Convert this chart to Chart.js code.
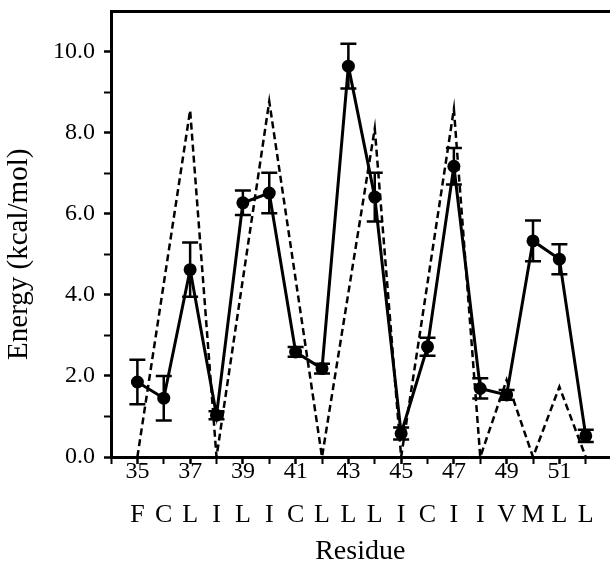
<!DOCTYPE html>
<html>
<head>
<meta charset="utf-8">
<script src="https://cdn.jsdelivr.net/npm/chart.js@4.4.1/dist/chart.umd.min.js"></script>
<style>
	html, body { margin: 0; padding: 0; background: #fff; }
	#contenedor { width: 616px; height: 566px; }
</style>
</head>
<body>
<div id="contenedor"><canvas id="grafico"></canvas></div>
<script>
// datos
var residuos = [35, 36, 37, 38, 39, 40, 41, 42, 43, 44, 45, 46, 47, 48, 49, 50, 51, 52];
var letras = ['F', 'C', 'L', 'I', 'L', 'I', 'C', 'L', 'L', 'L', 'I', 'C', 'I', 'I', 'V', 'M', 'L', 'L'];
var energia = [1.85, 1.45, 4.62, 1.03, 6.27, 6.51, 2.59, 2.18, 9.64, 6.41, 0.58, 2.72, 7.17, 1.69, 1.53, 5.33, 4.88, 0.52];
var errores = [0.55, 0.55, 0.67, 0.10, 0.30, 0.50, 0.12, 0.12, 0.55, 0.60, 0.15, 0.22, 0.45, 0.25, 0.12, 0.50, 0.37, 0.15];
var picosX = [35, 37, 38, 40, 42, 44, 45, 47, 48, 49, 50, 51, 52];
var picosY = [0, 8.55, 0, 8.77, 0, 8.1, 0, 8.58, 0, 1.9, 0, 1.73, 0];
var tituloY = 'Energy (kcal/mol)';
var tituloX = 'Residue';

Chart.defaults.font.family = "'Liberation Serif', 'Times New Roman', serif";
Chart.defaults.color = '#000';

var puntosSolidos = [];
for (var i in residuos) {
	puntosSolidos.push({x: residuos[i], y: energia[i]});
}
var puntosDiscontinuos = [];
for (var j in picosX) {
	puntosDiscontinuos.push({x: picosX[j], y: picosY[j]});
}

// barras de error y titulo del eje y
var barrasError = {
	id: 'barrasError',
	afterDatasetsDraw: function(chart) {
		var ctx = chart.ctx;
		var sx = chart.scales.x, sy = chart.scales.y;
		ctx.save();
		ctx.strokeStyle = '#000';
		ctx.lineWidth = 2.5;
		for (var i = 0; i < residuos.length; i++) {
			var px = sx.getPixelForValue(residuos[i]);
			var arriba = sy.getPixelForValue(energia[i] + errores[i]);
			var abajo = sy.getPixelForValue(energia[i] - errores[i]);
			ctx.beginPath();
			ctx.moveTo(px, arriba); ctx.lineTo(px, abajo);
			ctx.moveTo(px - 8, arriba); ctx.lineTo(px + 8, arriba);
			ctx.moveTo(px - 8, abajo); ctx.lineTo(px + 8, abajo);
			ctx.stroke();
		}
		ctx.restore();
	},
	afterDraw: function(chart) {
		var ctx = chart.ctx;
		var sy = chart.scales.y;
		var cy = (sy.getPixelForValue(0) + sy.getPixelForValue(10)) / 2;
		ctx.save();
		ctx.translate(19, cy);
		ctx.rotate(-Math.PI / 2);
		ctx.font = "29px 'Liberation Serif', serif";
		ctx.fillStyle = '#000';
		ctx.textAlign = 'center';
		ctx.textBaseline = 'middle';
		ctx.fillText(tituloY, 0, 0);
		ctx.restore();
	}
};

var config = {
	type: 'line',
	data: {
		datasets: [{
			data: puntosSolidos,
			borderColor: '#000',
			backgroundColor: '#000',
			borderWidth: 3,
			pointRadius: 6.5,
			pointBackgroundColor: '#000',
			pointBorderWidth: 0,
			tension: 0
		}, {
			data: puntosDiscontinuos,
			borderColor: '#000',
			borderWidth: 2.5,
			borderDash: [7, 4],
			pointRadius: 0,
			tension: 0
		}]
	},
	options: {
		responsive: true,
		maintainAspectRatio: false,
		animation: false,
		layout: { padding: { top: 0, left: 0, right: 0, bottom: 0 } },
		plugins: {
			legend: { display: false },
			tooltip: { enabled: false }
		},
		scales: {
			x: {
				type: 'linear',
				position: 'bottom',
				min: 34,
				max: 52.9,
				afterFit: function(s) { s.height = 40; s.paddingLeft = 0; s.paddingRight = 0; },
				ticks: {
					stepSize: 1,
					includeBounds: false,
					autoSkip: false,
					maxRotation: 0,
					padding: -4,
					font: { size: 24, lineHeight: 1 },
					callback: function(v) { return v % 2 === 1 ? String(v) : ''; }
				},
				grid: {
					drawOnChartArea: false,
					drawTicks: true,
					tickLength: 7,
					tickColor: '#000',
					tickWidth: function(c) { return c.tick && c.tick.value % 2 === 1 ? 2.5 : 2; }
				},
				border: { color: '#000', width: 3 }
			},
			x2: {
				type: 'linear',
				position: 'bottom',
				min: 34,
				max: 52.9,
				afterFit: function(s) { s.height = 69; s.paddingLeft = 0; s.paddingRight = 0; },
				ticks: {
					stepSize: 1,
					includeBounds: false,
					autoSkip: false,
					maxRotation: 0,
					padding: -3,
					font: { size: 26, lineHeight: 1 },
					callback: function(v) { return letras[v - 35] || ''; }
				},
				grid: { display: false },
				border: { display: false },
				title: {
					display: true,
					text: tituloX,
					font: { size: 28, lineHeight: 1 },
					padding: 0
				}
			},
			arriba: {
				type: 'linear',
				position: 'top',
				min: 34,
				max: 52.9,
				afterFit: function(s) { s.height = 11; },
				ticks: { display: false },
				grid: { display: false },
				border: { color: '#000', width: 3 }
			},
			y: {
				type: 'linear',
				min: 0,
				max: 11,
				afterFit: function(s) { s.width = 111; s.paddingTop = 0; s.paddingBottom = 0; },
				ticks: {
					stepSize: 1,
					padding: 9,
					font: { size: 24 },
					callback: function(v) { return (v % 2 === 0 && v <= 10) ? v.toFixed(1) : ''; }
				},
				grid: {
					drawOnChartArea: false,
					drawTicks: true,
					tickLength: 7,
					tickColor: function(c) { return c.tick && c.tick.value === 11 ? 'rgba(0,0,0,0)' : '#000'; },
					tickWidth: function(c) { return c.tick && c.tick.value % 2 === 0 ? 2.5 : 2; }
				},
				border: { color: '#000', width: 3 }
			}
		}
	},
	plugins: [barrasError]
};

var ctx = document.getElementById('grafico').getContext('2d');
window.miGrafico = new Chart(ctx, config);
</script>
</body>
</html>
